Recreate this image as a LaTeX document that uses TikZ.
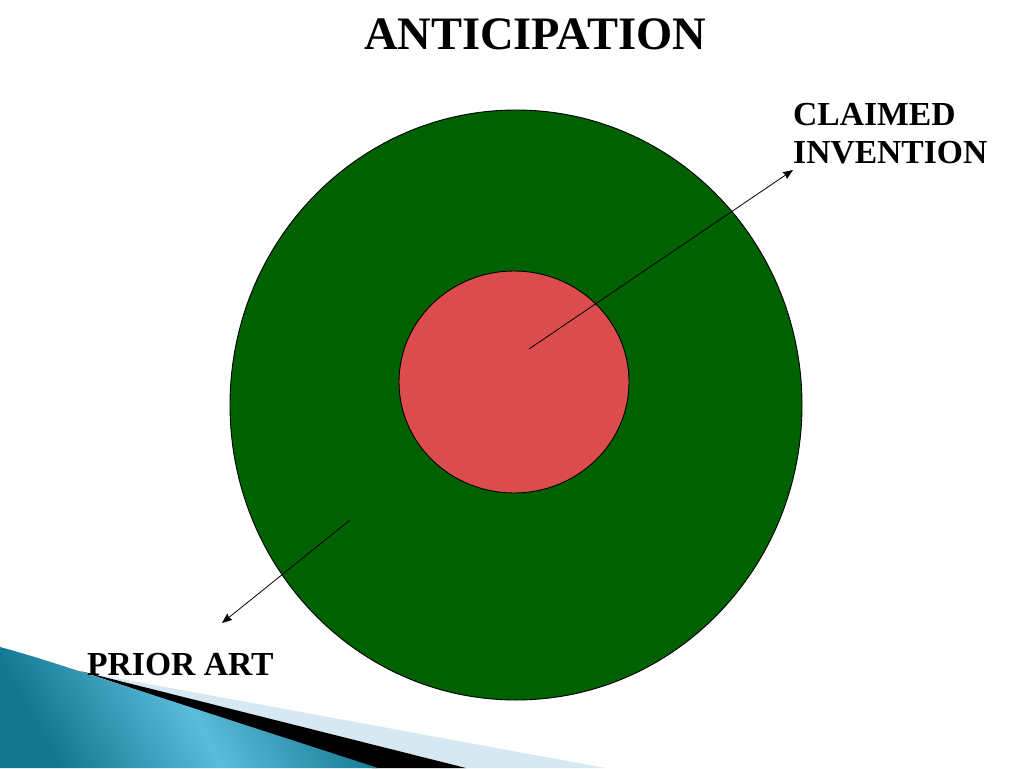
\documentclass[tikz,border=0pt]{standalone}
\usepackage{fontspec}
\setmainfont{Liberation Serif}
\usetikzlibrary{shapes.geometric,arrows.meta}
\definecolor{ringgreen}{HTML}{006100}
\definecolor{corered}{HTML}{DB4D4D}
\definecolor{tealdark}{HTML}{137792}
\definecolor{teallight}{HTML}{5BBCD9}
\definecolor{paleblue}{HTML}{D6E8F1}
\tikzset{
  disc/.style={ellipse, draw=black, line width=0.9pt, inner sep=0pt},
  pointer/.style={draw=black, line width=0.8pt, -{Stealth[length=10pt,width=8pt,inset=1pt]}},
  title/.style={font=\bfseries\fontsize{46.5}{56}\selectfont, anchor=base},
  label/.style={font=\bfseries\fontsize{33.6}{38}\selectfont, anchor=base west, inner sep=0pt},
}
\begin{document}
\begin{tikzpicture}[x=1pt,y=-1pt]
\useasboundingbox (0,0) rectangle (1024,768);
\fill[white] (0,0) rectangle (1024,768);
% corner decoration
\fill[paleblue] (100,675) -- (605,768) -- (440,768) -- cycle;
\fill[black] (80,671) -- (466,768) -- (372,768) -- cycle;
\shade[left color=tealdark, right color=tealdark, middle color=teallight, shading angle=120]
  (0,647) .. controls (30,655) and (60,665) .. (85,673) -- (378,768) -- (0,768) -- cycle;
% discs
\node[disc, fill=ringgreen, minimum width=572pt, minimum height=590pt] (outer) at (516,405) {};
\node[disc, fill=corered, minimum width=230pt, minimum height=222pt] (inner) at (514,382) {};
% texts
\node[title] (ttl) at (535,49) {ANTICIPATION};
\node[label] (claimed) at (793,125) {CLAIMED};
\node[label] (invention) at (793,163) {INVENTION};
\node[label] (prior) at (87,675) {PRIOR ART};
% arrows
\coordinate (cstart) at (529,349);
\coordinate (cend) at (793,170);
\coordinate (pstart) at (350,520);
\coordinate (pend) at (222,623);
\draw[pointer] (cstart) -- (cend);
\draw[pointer] (pstart) -- (pend);
\end{tikzpicture}
\end{document}
